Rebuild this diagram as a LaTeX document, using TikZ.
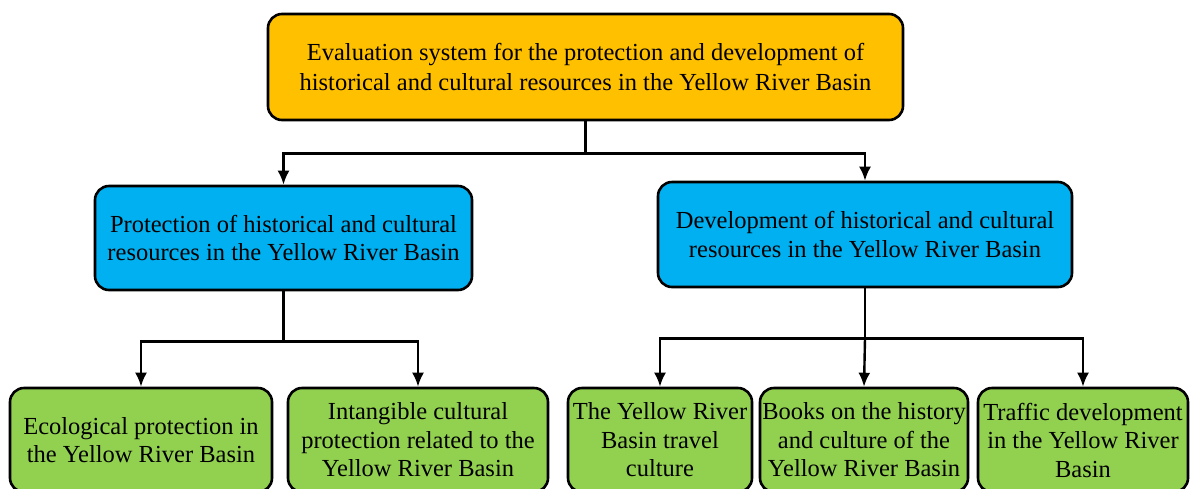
\documentclass[tikz,border=0pt]{standalone}
\usepackage{xcolor}
\usepackage{fontspec}
\setmainfont{Liberation Serif}
\usepackage{tikz}
\tikzset{>=latex}
\usetikzlibrary{arrows.meta, calc}

\definecolor{topfill}{HTML}{FFC000}
\definecolor{midfill}{HTML}{00B0F0}
\definecolor{lowfill}{HTML}{92D050}

\tikzset{
  box/.style={draw, line width=2.6pt, rounded corners=14pt, align=center,
    inner sep=0pt, font=\fontsize{24.5}{28.5}\selectfont},
  link/.style={line width=2.4pt, -{Latex[length=14pt, width=12pt]}}
}

\begin{document}
\begin{tikzpicture}[x=1pt, y=-1pt]

    \useasboundingbox (0, 0) rectangle (1190, 488);

    % top level
    \node[box, fill=topfill, minimum width=635, minimum height=106,
      font=\fontsize{24.5}{30}\selectfont] (eval) at (585.5, 67)
      {Evaluation system for the protection and development of\\historical and cultural resources in the Yellow River Basin};

    % second level
    \node[box, fill=midfill, minimum width=377, minimum height=104] (prot) at (283.5, 238)
      {Protection of historical and cultural\\resources in the Yellow River Basin};
    \node[box, fill=midfill, minimum width=414, minimum height=105] (dev) at (865, 234.5)
      {Development of historical and cultural\\resources in the Yellow River Basin};

    % third level
    \node[box, fill=lowfill, minimum width=262, minimum height=104] (eco) at (141, 440)
      {Ecological protection in\\the Yellow River Basin};
    \node[box, fill=lowfill, minimum width=260, minimum height=104] (intang) at (418, 440)
      {Intangible cultural\\protection related to the\\Yellow River Basin};
    \node[box, fill=lowfill, minimum width=184, minimum height=104] (travel) at (660, 440)
      {The Yellow River\\Basin travel\\culture};
    \node[box, fill=lowfill, minimum width=208, minimum height=104] (books) at (864, 440)
      {Books on the history\\and culture of the\\Yellow River Basin};
    \node[box, fill=lowfill, minimum width=210, minimum height=104] (traffic) at (1083, 440)
      {Traffic development\\in the Yellow River\\Basin};

    \draw[line width=2.4pt] (eval.south) -- ++(0, 32) coordinate (j0);
    \draw[link] (j0) -| (prot.north);
    \draw[link] (j0) -| (dev.north);

    \draw[line width=2.4pt] (prot.south) -- ++(0, 50) coordinate (j1);
    \draw[link] (j1) -| (eco.north);
    \draw[link] (j1) -| (intang.north);

    \draw[line width=2.4pt] (dev.south) -- ++(0, 50) coordinate (j2);
    \draw[link] (j2) -| (travel.north);
    \draw[link] (j2) -- (books.north);
    \draw[link] (j2) -| (traffic.north);

\end{tikzpicture}
\end{document}
